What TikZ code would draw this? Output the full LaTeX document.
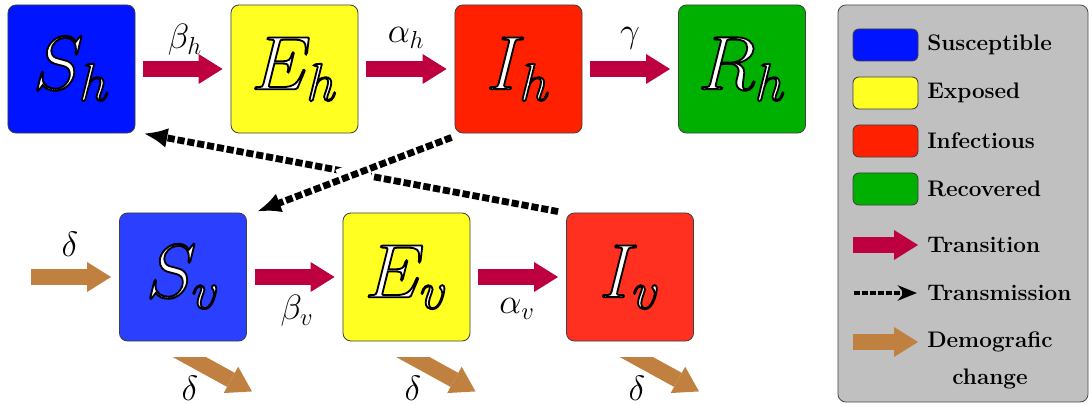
\documentclass[tikz,border=0pt]{standalone}
\usepackage{fix-cm}
\usetikzlibrary{arrows.meta}
\newcommand\outl[1]{\special{pdf:code q 0 G 1.3 w 2 Tr}#1\special{pdf:code Q}}
\definecolor{cSh}{RGB}{0,20,255}
\definecolor{cSv}{RGB}{43,63,255}
\definecolor{cY}{RGB}{255,255,34}
\definecolor{cIh}{RGB}{255,32,0}
\definecolor{cIv}{RGB}{255,48,32}
\definecolor{cR}{RGB}{0,176,0}
\definecolor{cTr}{RGB}{190,0,64}
\definecolor{cDm}{RGB}{192,128,64}
\definecolor{cLg}{RGB}{192,192,192}
\tikzset{
  comp/.style={draw=black!75, line width=0.6pt, rounded corners=0.2cm,
    minimum width=3.175cm, minimum height=3.2cm, inner sep=0pt, text=white,
    font=\fontsize{54}{60}\selectfont},
  trans/.style={draw=cTr, line width=0.4cm, -{Triangle[length=0.6cm,width=0.75cm,line width=0pt,fill=cTr]}},
  demo/.style={draw=cDm, line width=0.4cm, -{Triangle[length=0.6cm,width=0.75cm,line width=0pt,fill=cDm]}},
  tmis/.style={line width=0.17cm, dash pattern=on 0.18cm off 0.07cm,
    -{Latex[length=0.6cm,width=0.5cm]}},
  halo/.style={white, line width=0.55cm, shorten <=3cm, shorten >=3cm},
  lab/.style={font=\fontsize{25}{30}\selectfont, inner sep=0pt},
  swatch/.style={draw=black!75, line width=0.6pt, rounded corners=0.15cm,
    minimum width=1.625cm, minimum height=0.8cm, inner sep=0pt},
  legtext/.style={anchor=west, font=\fontsize{16}{19}\bfseries\selectfont, inner sep=0pt},
  legbox/.style={draw=black!70, fill=cLg, line width=0.6pt, rounded corners=0.2cm,
    minimum width=6.25cm, minimum height=9.925cm, inner sep=0pt},
}
\begin{document}
\begin{tikzpicture}[x=0.025cm,y=-0.025cm]
\useasboundingbox (0,0) rectangle (1092,405);
% compartments
\node[comp, fill=cSh] (Sh) at (71.5,69) {\outl{$S_h$}};
\node[comp, fill=cY]  (Eh) at (294.5,69) {\outl{$E_h$}};
\node[comp, fill=cIh] (Ih) at (518.5,69) {\outl{$I_h$}};
\node[comp, fill=cR]  (Rh) at (742,69) {\outl{$R_h$}};
\node[comp, fill=cSv] (Sv) at (183,277) {\outl{$S_v$}};
\node[comp, fill=cY]  (Ev) at (406.5,277) {\outl{$E_v$}};
\node[comp, fill=cIv] (Iv) at (630,277) {\outl{$I_v$}};
% transitions
\draw[trans] ([xshift=8*0.025cm]Sh.east) -- ([xshift=-8*0.025cm]Eh.west);
\draw[trans] ([xshift=8*0.025cm]Eh.east) -- ([xshift=-8*0.025cm]Ih.west);
\draw[trans] ([xshift=8*0.025cm]Ih.east) -- ([xshift=-8*0.025cm]Rh.west);
\draw[trans] ([xshift=8*0.025cm]Sv.east) -- ([xshift=-8*0.025cm]Ev.west);
\draw[trans] ([xshift=8*0.025cm]Ev.east) -- ([xshift=-8*0.025cm]Iv.west);
\node[lab] (bh) at (185,40) {$\beta_h$};
\node[lab] (ah) at (406,38) {$\alpha_h$};
\node[lab] (gh) at (630,38) {$\gamma$};
\node[lab] (bv) at (297,311) {$\beta_v$};
\node[lab] (av) at (517,309) {$\alpha_v$};
% demographic
\coordinate (din) at (31,277);
\draw[demo] (din) -- ([xshift=-8*0.025cm]Sv.west);
\node[lab] (d0) at (70,244) {$\delta$};
\foreach \n/\m in {Sv/1,Ev/2,Iv/3}{
  \begin{scope}
    \clip ([shift={(-40,16)}]\n.south) rectangle ([shift={(120,70)}]\n.south);
    \coordinate (o\m) at ([shift={(-13,5)}]\n.south);
    \coordinate (t\m) at ([shift={(69,50)}]\n.south);
    \draw[demo] (o\m) -- (t\m);
  \end{scope}
}
\node[lab] (d1) at (190,388) {$\delta$};
\node[lab] (d2) at (413,388) {$\delta$};
\node[lab] (d3) at (637,388) {$\delta$};
% transmissions
\draw[tmis] ([shift={(-8,-1)}]Iv.north west) -- ([shift={(8,0)}]Sh.south east);
\draw[halo] ([shift={(-3,4)}]Ih.south west) -- ([shift={(10,-1)}]Sv.north east);
\draw[tmis] ([shift={(-3,4)}]Ih.south west) -- ([shift={(10,-1)}]Sv.north east);
% legend
\node[legbox] (leg) at (963,203.5) {};
\node[swatch, fill=cSh] (ls) at (885.5,45) {};
\node[swatch, fill=cY]  (le) at (885.5,93) {};
\node[swatch, fill=cIh] (li) at (885.5,141) {};
\node[swatch, fill=cR]  (lr) at (885.5,189) {};
\node[legtext] (tls) at (927,45) {Susceptible};
\node[legtext] (tle) at (927,93) {Exposed};
\node[legtext] (tli) at (927,141) {Infectious};
\node[legtext] (tlr) at (927,189) {Recovered};
\coordinate (a1) at (853,245); \coordinate (b1) at (918,245);
\draw[trans] (a1) -- (b1);
\node[legtext] (tlt) at (927,245) {Transition};
\coordinate (a2) at (854,293); \coordinate (b2) at (917,293);
\draw[line width=0.12cm, dash pattern=on 0.14cm off 0.06cm, -{Stealth[length=0.48cm,width=0.38cm]}] (a2) -- (b2);
\node[legtext] (tlm) at (927,293) {Transmission};
\coordinate (a3) at (853,342); \coordinate (b3) at (918,342);
\draw[demo] (a3) -- (b3);
\node[legtext, anchor=north west, align=center, font=\fontsize{16}{27}\bfseries\selectfont] (tld) at (927,331) {Demografic\\change};
\end{tikzpicture}
\end{document}
